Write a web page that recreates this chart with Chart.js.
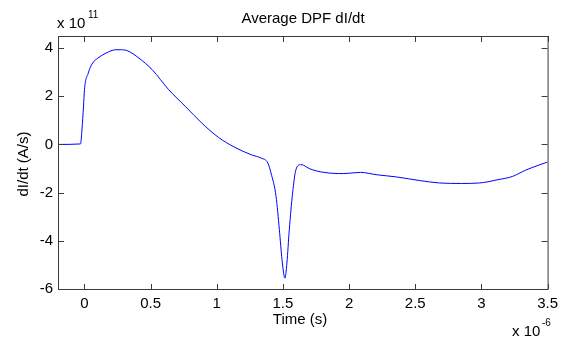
<!DOCTYPE html>
<html lang="en">
<head>
<meta charset="UTF-8">
<title>Average DPF dI/dt</title>
<script src="https://cdn.jsdelivr.net/npm/chart.js"></script>
<style>
  html, body { margin: 0; padding: 0; background: #fff; }
  #wrap { width: 564px; height: 338px; }
</style>
</head>
<body>
<div id="wrap"><canvas id="chart" width="564" height="338"></canvas></div>
<script>
// time in units of 1e-6 s, dI/dt in units of 1e11 A/s
const timeUs = [-0.2, -0.03, -0.019, -0.007, 0.0, 0.011, 0.025, 0.037, 0.062, 0.1, 0.163, 0.237, 0.277, 0.324,
  0.412, 0.512, 0.637, 0.762, 0.886, 1.011, 1.136, 1.261, 1.336, 1.386, 1.41, 1.448, 1.473, 1.493, 1.515,
  1.53, 1.548, 1.573, 1.598, 1.635, 1.655, 1.698, 1.81, 1.96, 2.085, 2.21, 2.36, 2.534, 2.684, 2.85, 2.984,
  3.05, 3.109, 3.234, 3.333, 3.433, 3.5];
const dIdt = [0, 0.02, 0.6, 1.6, 2.27, 2.7, 2.9, 3.1, 3.38, 3.58, 3.79, 3.93, 3.93, 3.89,
  3.58, 3.1, 2.27, 1.58, 0.89, 0.3, -0.12, -0.43, -0.57, -0.77, -1.19, -2.16, -3.54, -4.78, -5.55,
  -4.92, -3.54, -2.02, -1.05, -0.84, -0.86, -1.0, -1.16, -1.21, -1.16, -1.26, -1.35, -1.5, -1.6, -1.62, -1.6,
  -1.55, -1.48, -1.33, -1.07, -0.86, -0.73];
const xTicks = [0, 0.5, 1, 1.5, 2, 2.5, 3, 3.5];
const yTicks = [-6, -4, -2, 0, 2, 4];

const FONT = "'Liberation Sans', Arial, sans-serif";

// matlab style box with inward ticks, plus the titles
const frame = {
  id: 'frame',
  afterDatasetsDraw(chart) {
    const { ctx, chartArea: a, scales: { x, y } } = chart;
    ctx.save();
    ctx.strokeStyle = '#3c3c3c';
    ctx.lineWidth = 1;
    ctx.strokeRect(a.left + 0.5, a.top + 0.5, a.right - a.left, a.bottom - a.top);
    ctx.beginPath();
    xTicks.forEach(v => {
      const px = Math.round(x.getPixelForValue(v)) + 0.5;
      ctx.moveTo(px, a.bottom); ctx.lineTo(px, a.bottom - 5);
      ctx.moveTo(px, a.top); ctx.lineTo(px, a.top + 6);
    });
    yTicks.forEach(v => {
      const py = Math.round(y.getPixelForValue(v)) + 0.5;
      ctx.moveTo(a.left, py); ctx.lineTo(a.left + 6, py);
      ctx.moveTo(a.right, py); ctx.lineTo(a.right - 6, py);
    });
    ctx.stroke();

    ctx.fillStyle = '#000';
    ctx.font = '15px ' + FONT;
    ctx.textAlign = 'center';
    ctx.textBaseline = 'middle';
    ctx.fillText('Average DPF dI/dt', 303, 19);
    ctx.textBaseline = 'alphabetic';
    ctx.fillText('Time (s)', 300, 324);

    ctx.save();
    ctx.translate(28, 164);
    ctx.rotate(-Math.PI / 2);
    ctx.textBaseline = 'alphabetic';
    ctx.fillText('dI/dt (A/s)', 0, 0);
    ctx.restore();

    ctx.textAlign = 'left';
    ctx.fillText('x 10', 57, 28);
    ctx.fillText('x 10', 512, 336);
    ctx.font = '10px ' + FONT;
    ctx.fillText('11', 88, 18);
    ctx.fillText('-6', 542, 326);
    ctx.restore();
  }
};

new Chart(document.getElementById('chart'), {
  type: 'scatter',
  data: {
    datasets: [{
      data: timeUs.map((t, i) => ({ x: t, y: dIdt[i] })),
      showLine: true,
      borderColor: '#0000ff',
      borderWidth: 1,
      pointRadius: 0,
      cubicInterpolationMode: 'monotone'
    }]
  },
  options: {
    responsive: false,
    animation: false,
    layout: { padding: { top: 36, right: 12, left: 0, bottom: 0 } },
    plugins: { legend: { display: false }, tooltip: { enabled: false } },
    scales: {
      x: {
        type: 'linear',
        min: -0.2,
        max: 3.5,
        afterBuildTicks: s => { s.ticks = xTicks.map(v => ({ value: v })); },
        afterFit: s => { s.height = 49; },
        grid: { display: false, drawTicks: false },
        border: { display: false },
        ticks: { padding: 6, color: '#000', font: { family: FONT, size: 15 }, maxRotation: 0,
          callback: v => String(v) }
      },
      y: {
        type: 'linear',
        min: -6,
        max: 4.5,
        afterBuildTicks: s => { s.ticks = yTicks.map(v => ({ value: v })); },
        afterFit: s => { s.width = 58; },
        grid: { display: false, drawTicks: false },
        border: { display: false },
        ticks: { padding: 5, color: '#000', font: { family: FONT, size: 15 },
          callback: v => String(v) }
      }
    }
  },
  plugins: [frame]
});
</script>
</body>
</html>
